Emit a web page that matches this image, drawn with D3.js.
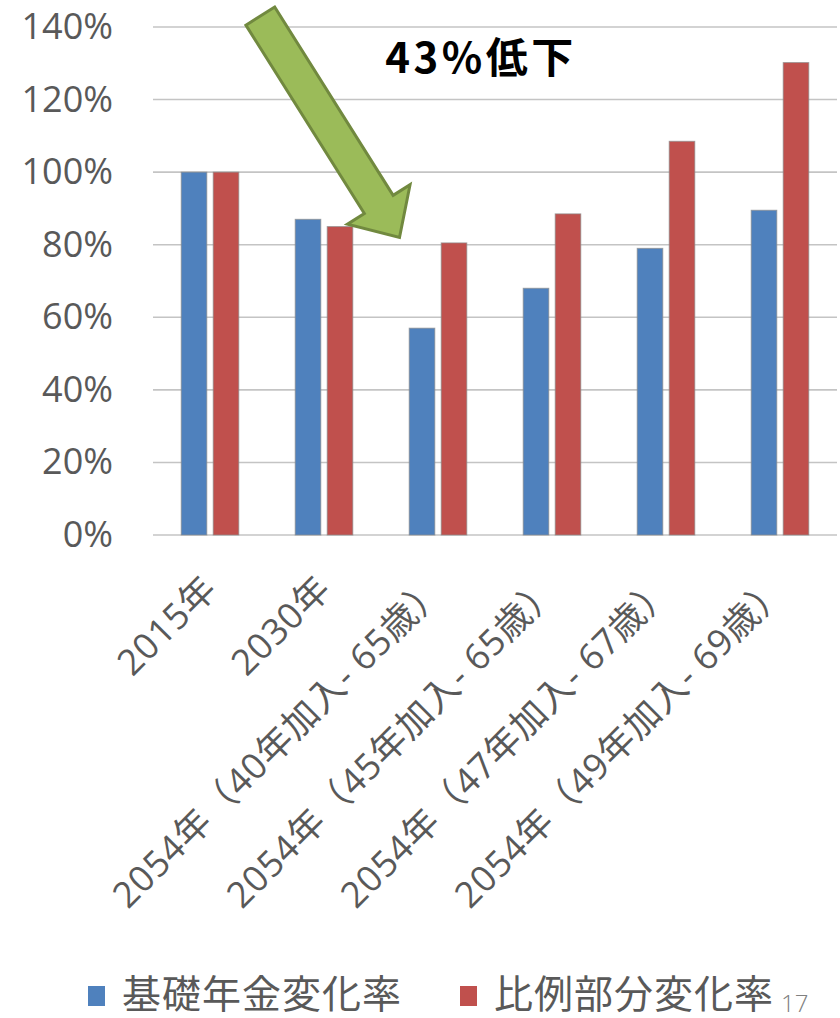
<!DOCTYPE html>
<html>
<head>
<meta charset="utf-8">
<script src="https://cdn.jsdelivr.net/npm/d3@7"></script>
<style>
  html, body { margin: 0; padding: 0; background: #fff; }
  svg { display: block; }
</style>
</head>
<body>
<svg id="chart" width="840" height="1018"></svg>
<script>
// Categories and the two series (ratio to 2015, in %)
const categories = [
  "2015年",
  "2030年",
  "2054年（40年加入- 65歳）",
  "2054年（45年加入- 65歳）",
  "2054年（47年加入- 67歳）",
  "2054年（49年加入- 69歳）"
];
const seriesNames = ["基礎年金変化率", "比例部分変化率"];
const basicRate = [100, 87, 57, 68, 79, 89.5];
const proportionalRate = [100, 85, 80.5, 88.5, 108.5, 130.2];
const yTicks = [0, 20, 40, 60, 80, 100, 120, 140];
const colors = ["#4F81BD", "#C0504D"];
const calloutText = "43%低下";
const pageNumber = "17";

const svg = d3.select("#chart");
const plotLeft = 153, plotRight = 837, plotTop = 27, plotBottom = 535;

const x0 = d3.scaleBand()
  .domain(categories)
  .range([plotLeft, plotRight])
  .paddingInner(0.4947)
  .paddingOuter(0.2474);

const x1 = d3.scaleBand()
  .domain(seriesNames)
  .range([0, x0.bandwidth()])
  .paddingInner(0.2);

const y = d3.scaleLinear().domain([0, 140]).range([plotBottom, plotTop]);

const labelFont = "'Open Sans', 'Noto Sans CJK JP', sans-serif";
const cjkFont = "'Noto Sans CJK JP', sans-serif";

// Horizontal gridlines
svg.append("g")
  .selectAll("line")
  .data(yTicks)
  .join("line")
  .attr("x1", plotLeft)
  .attr("x2", plotRight)
  .attr("y1", d => y(d))
  .attr("y2", d => y(d))
  .attr("stroke", "#c4c4c4")
  .attr("stroke-width", 1.6);

// Y axis labels
const yAxis = d3.axisLeft(y)
  .tickValues(yTicks)
  .tickFormat(d => d + "%")
  .tickSize(0)
  .tickPadding(40);
const gy = svg.append("g").attr("transform", `translate(${plotLeft},0)`).call(yAxis);
gy.select(".domain").remove();
gy.selectAll("text")
  .attr("font-family", labelFont)
  .attr("font-size", 36)
  .attr("fill", "#595959");

// Bars
const rows = categories.map((c, i) => ({
  category: c,
  values: [
    { series: seriesNames[0], value: basicRate[i], color: colors[0] },
    { series: seriesNames[1], value: proportionalRate[i], color: colors[1] }
  ]
}));

svg.append("g")
  .selectAll("g")
  .data(rows)
  .join("g")
  .attr("transform", d => `translate(${x0(d.category)},0)`)
  .selectAll("rect")
  .data(d => d.values)
  .join("rect")
  .attr("x", d => x1(d.series))
  .attr("width", x1.bandwidth())
  .attr("y", d => y(d.value))
  .attr("height", d => y(0) - y(d.value))
  .attr("fill", d => d.color)
  .attr("stroke", "rgba(140,140,140,0.7)")
  .attr("stroke-width", 1);

// Rotated category labels
const xAxis = d3.axisBottom(x0).tickSize(0).tickPadding(0);
const gx = svg.append("g").attr("transform", `translate(0,${plotBottom})`).call(xAxis);
gx.select(".domain").remove();
gx.selectAll(".tick text")
  .attr("font-family", labelFont)
  .attr("font-size", 36)
  .attr("letter-spacing", 0.8)
  .attr("fill", "#595959")
  .attr("text-anchor", "end")
  .attr("dy", 0)
  .attr("transform", "translate(9,56) rotate(-45)");

// Callout arrow pointing at the 2054 (40年加入) group
const tail = [x0(categories[0]) + x0.bandwidth() / 2 + 50.3, y(143)];
const tip = [x0(categories[2]) + x0.bandwidth() / 2 - 38.5, y(82)];
const shaftHalf = 17, headHalf = 37, headLen = 39;
const ddx = tip[0] - tail[0], ddy = tip[1] - tail[1];
const len = Math.hypot(ddx, ddy);
const u = [ddx / len, ddy / len];
const n = [-u[1], u[0]];
const base = [tip[0] - u[0] * headLen, tip[1] - u[1] * headLen];
const pt = (p, k) => [p[0] + n[0] * k, p[1] + n[1] * k];
const arrowPts = [
  pt(tail, -shaftHalf),
  pt(base, -shaftHalf),
  pt(base, -headHalf),
  tip,
  pt(base, headHalf),
  pt(base, shaftHalf),
  pt(tail, shaftHalf)
];
svg.append("path")
  .attr("d", d3.line()(arrowPts) + "Z")
  .attr("fill", "#9BBB59")
  .attr("stroke", "#71893F")
  .attr("stroke-width", 3)
  .attr("stroke-linejoin", "miter");

svg.append("text")
  .attr("x", 481)
  .attr("y", 73)
  .attr("text-anchor", "middle")
  .attr("font-family", cjkFont)
  .attr("font-weight", "bold")
  .attr("font-size", 42)
  .attr("letter-spacing", 3.5)
  .attr("fill", "#000")
  .text(calloutText);

// Legend
const legend = svg.append("g");
const legendX = [88, 460];
seriesNames.forEach((name, i) => {
  legend.append("rect")
    .attr("x", legendX[i])
    .attr("y", 986)
    .attr("width", 17)
    .attr("height", 20)
    .attr("fill", colors[i]);
  legend.append("text")
    .attr("x", legendX[i] + 34)
    .attr("y", 1008)
    .attr("font-family", cjkFont)
    .attr("font-size", 39)
    .attr("letter-spacing", 1)
    .attr("fill", "#595959")
    .text(name);
});

// Page number
svg.append("text")
  .attr("x", 781)
  .attr("y", 1012)
  .attr("font-family", "'Open Sans', sans-serif")
  .attr("font-weight", 300)
  .attr("font-size", 24)
  .attr("fill", "#808080")
  .text(pageNumber);
</script>
</body>
</html>
